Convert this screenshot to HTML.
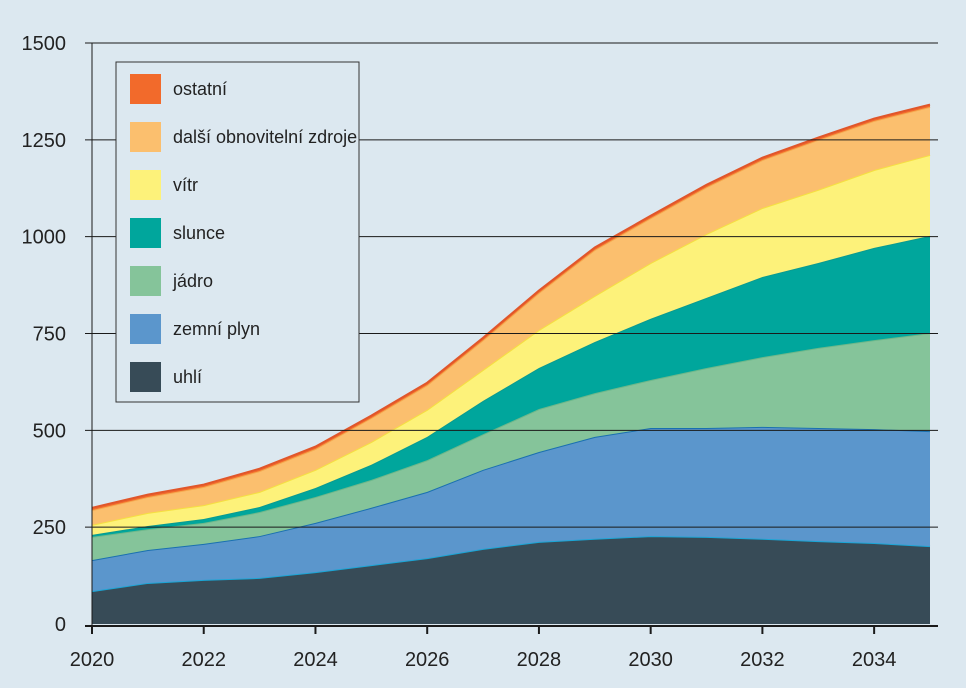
<!DOCTYPE html>
<html><head><meta charset="utf-8"><style>
body{margin:0;background:#dce8f0;}
svg{display:block;font-family:"Liberation Sans",sans-serif;}
</style></head><body>
<svg id="chart" width="966" height="688" viewBox="0 0 966 688">
<rect width="966" height="688" fill="#dce8f0"/>
<g id="areas"></g><g id="grid"></g><g id="axes"></g><g id="legend"></g>
</svg>
<script>
const years=[2020,2021,2022,2023,2024,2025,2026,2027,2028,2029,2030,2031,2032,2033,2034,2035];
const coal=[85,106,114,119,134,152,170,194,212,220,227,225,220,214,209,201];
const gas=[80,85,93,108,127,148,171,204,232,263,279,281,289,292,294,297];
const nuclear=[60,54,54,62,67,72,82,92,111,113,124,155,180,207,230,253];
const solar=[5,8,10,13,23,39,60,86,106,132,158,181,207,219,238,251];
const wind=[26,34,36,39,47,59,70,80,98,119,144,165,178,189,201,209];
const otherRen=[38,41,47,54,54,62,64,77,96,119,116,121,124,129,127,124];
const other=[6,6,6,6,6,6,6,6,6,6,6,6,6,6,6,6];
const yTicks=[0,250,500,750,1000,1250,1500];
const xTicks=[2020,2022,2024,2026,2028,2030,2032,2034];
const seriesNames=["uhlí","zemní plyn","jádro","slunce","vítr","další obnovitelní zdroje","ostatní"];
const seriesData=[coal,gas,nuclear,solar,wind,otherRen,other];
const fills=["#374b57","#5b96cc","#85c49a","#00a69c","#fdf27a","#fbbf6e","#f26a2b"];
const strokes=["#1aa6d6","#1a70b0","#6cb88a","#0a9a90","#f5e040","#f5a94e","#e0562a"];
const NS="http://www.w3.org/2000/svg";
const x=v=>92+(v-2020)*(930-92)/15;
const y=v=>624-v*(624-43)/1500;
function mk(tag,attrs,parent){const e=document.createElementNS(NS,tag);for(const k in attrs)e.setAttribute(k,attrs[k]);parent.appendChild(e);return e;}
const areas=document.getElementById('areas');
let base=years.map(()=>0);
seriesData.forEach((s,i)=>{
  const top=base.map((b,j)=>b+s[j]);
  let d="M"+years.map((yr,j)=>x(yr)+","+y(top[j])).join(" L");
  for(let j=years.length-1;j>=0;j--)d+=" L"+x(years[j])+","+y(base[j]);
  d+="Z";
  const p=mk('path',{d:d,fill:fills[i]},areas);
  
  
  const l=mk('path',{d:"M"+years.map((yr,j)=>x(yr)+","+y(top[j])).join(" L"),fill:"none",stroke:strokes[i],"stroke-width":2},areas);
  
  
  base=top;
});
const grid=document.getElementById('grid');
yTicks.forEach(t=>{
  if(t>0){const g=mk('line',{x1:85,x2:938,y1:y(t),y2:y(t),stroke:"#1a1a1a","stroke-width":1},grid);
  
  }
  const tx=mk('text',{x:66,y:y(t)+7,"text-anchor":"end","font-size":20,fill:"#222"},grid);
  tx.textContent=t;
  
  
});
const axes=document.getElementById('axes');
let a=mk('line',{x1:85,x2:938,y1:626,y2:626,stroke:"#1a1a1a","stroke-width":2},axes);


a=mk('line',{x1:92,x2:92,y1:43,y2:626,stroke:"#1a1a1a","stroke-width":1},axes);


xTicks.forEach(t=>{
  const tk=mk('line',{x1:x(t),x2:x(t),y1:626,y2:634,stroke:"#1a1a1a","stroke-width":2},axes);
  
  
  const tx=mk('text',{x:x(t),y:666,"text-anchor":"middle","font-size":20,fill:"#222"},axes);
  tx.textContent=t;
  
  
});
const lg=document.getElementById('legend');
const box=mk('rect',{x:116,y:62,width:243,height:340,fill:"#dce8f0",stroke:"#333","stroke-width":1},lg);


for(let k=0;k<7;k++){
  const i=6-k;
  const yy=74+k*48;
  const sw=mk('rect',{x:130,y:yy,width:31,height:30,fill:fills[i]},lg);
  
  
  const tx=mk('text',{x:173,y:yy+21,"font-size":18,fill:"#222"},lg);
  tx.textContent=seriesNames[i];
  
  
}
</script>
</body></html>
